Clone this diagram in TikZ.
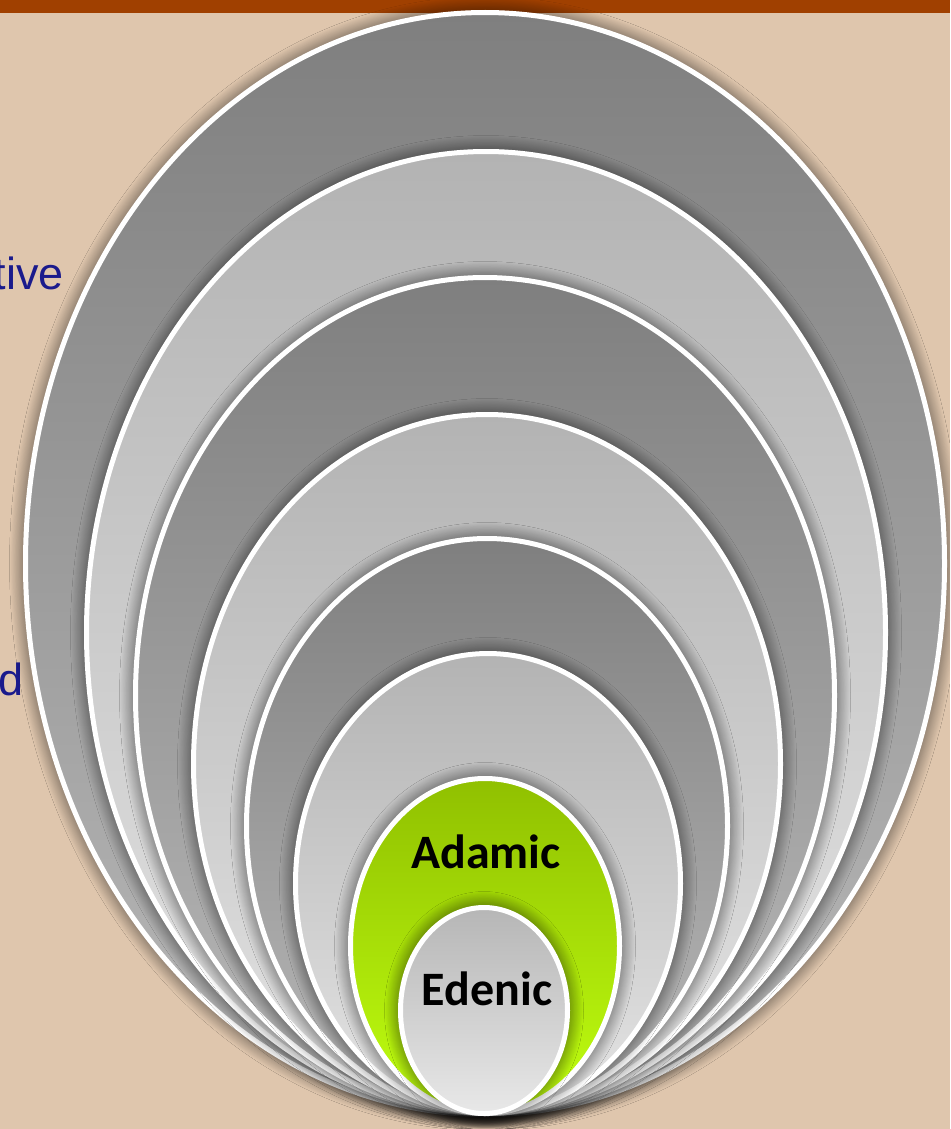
\documentclass[tikz,border=0pt]{standalone}
\usepackage{fontspec}
\setmainfont{Liberation Sans}
\newfontfamily\carlito{Carlito}
\usetikzlibrary{shapes.geometric,shadows.blur}
\definecolor{bgtan}{RGB}{223,198,173}
\definecolor{barbrown}{RGB}{160,64,0}
\definecolor{txtblue}{RGB}{26,26,140}
\definecolor{dktop}{RGB}{127,127,127}
\definecolor{dkbot}{RGB}{185,185,185}
\definecolor{lttop}{RGB}{179,179,179}
\definecolor{ltbot}{RGB}{228,228,228}
\definecolor{grtop}{RGB}{144,192,0}
\definecolor{grbot}{RGB}{192,255,16}
\definecolor{edtop}{RGB}{182,182,182}
\definecolor{edbot}{RGB}{232,232,232}
\begin{document}
\begin{tikzpicture}[x=1pt,y=-1pt,
  layer/.style={ellipse, draw=white, line width=5pt, inner sep=0pt, outer sep=0pt,
    blur shadow={shadow xshift=0pt, shadow yshift=0pt, shadow blur radius=16pt,
      shadow opacity=75, shadow blur steps=20}},
  darklayer/.style={layer, top color=dktop, bottom color=dkbot},
  lightlayer/.style={layer, top color=lttop, bottom color=ltbot},
  greenlayer/.style={layer, top color=grtop, bottom color=grbot},
  edenlayer/.style={layer, top color=edtop, bottom color=edbot},
  sidetext/.style={font=\fontsize{45}{50}\selectfont, text=txtblue, inner sep=0pt},
  label/.style={font=\carlito\bfseries\fontsize{48}{52}\selectfont, text=black, inner sep=0pt}]
\useasboundingbox (0,0) rectangle (950,1129);
\clip (0,0) rectangle (950,1129);
\fill[bgtan] (0,0) rectangle (950,1129);
\fill[barbrown] (0,0) rectangle (950,13);
\node[sidetext, anchor=base east] (tive) at (64,289) {tive};
\node[sidetext, anchor=base east] (dtext) at (24,695) {d};
\node[darklayer, minimum width=919pt, minimum height=1102pt] (e1) at (485,563.5) {};
\node[lightlayer, minimum width=799pt, minimum height=962pt] (e2) at (486,632.5) {};
\node[darklayer, minimum width=699pt, minimum height=836pt] (e3) at (485,695.5) {};
\node[lightlayer, minimum width=587pt, minimum height=699pt] (e4) at (487,764) {};
\node[darklayer, minimum width=481pt, minimum height=575pt] (e5) at (487,826) {};
\node[lightlayer, minimum width=385pt, minimum height=460pt] (e6) at (488,883.5) {};
\node[greenlayer, minimum width=269pt, minimum height=335pt] (e7) at (485,946) {};
\node[edenlayer, minimum width=167pt, minimum height=206pt] (e8) at (484,1010.5) {};
\node[label, anchor=base] (adamic) at (486,868) {Adamic};
\node[label, anchor=base] (edenic) at (487,1005) {Edenic};
\end{tikzpicture}
\end{document}
